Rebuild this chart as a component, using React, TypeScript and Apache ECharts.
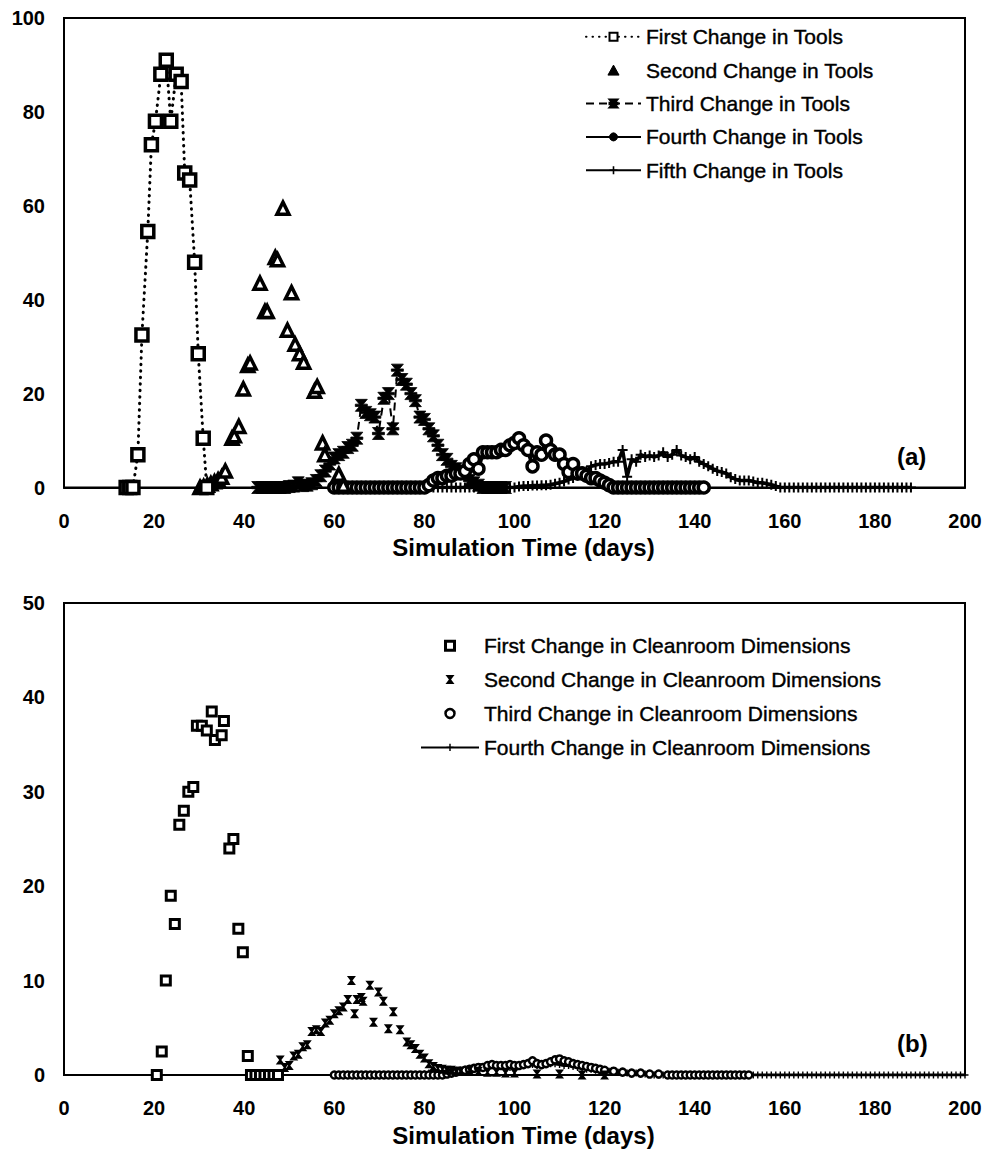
import React, { useEffect, useRef } from "react";
import * as echarts from "echarts";

// ---------- Chart (a): tool changes ----------
const firstTools: [number, number][] = [
  [13.8, 0], [14.6, 0], [15.3, 0], [16.4, 7], [17.3, 32.5], [18.6, 54.5], [19.4, 73], [20.3, 78],
  [21.5, 88], [22.7, 91], [23.7, 78], [24.9, 88], [26, 86.5], [26.8, 67], [27.9, 65.5], [29, 48],
  [29.8, 28.5], [30.9, 10.5], [31.7, 0],
];

const secondTools: [number, number][] = [
  [30.2, 0], [31, 0.2], [31.8, 0.5], [32.6, 0.8], [33.4, 1.2], [34.2, 1.6], [35, 2.2], [35.8, 3.5],
  [37.3, 10.5], [37.8, 11], [38.8, 13], [39.8, 21], [40.8, 26], [41.3, 26.5], [43.5, 43.5],
  [44.6, 37.5], [45.1, 37.5], [46.9, 49], [47.4, 48.5], [48.6, 59.5], [49.6, 33.5], [50.5, 41.5],
  [51.3, 30.5], [52.3, 28.5], [53.2, 26.7], [55.6, 20.5], [56.2, 21.5], [57.4, 9.5], [57.9, 7],
  [61, 2.8], [62, 0.5],
];

const thirdTools: [number, number][] = [
  [43, 0], [44, 0], [45, 0], [46, 0], [47, 0], [48, 0], [49, 0], [50, 0.2], [51, 0.3], [52, 1],
  [53, 0.4], [54, 0.5], [55, 0.8], [56, 1.5], [57, 2.5], [58, 3.5], [59, 5], [60, 6.3], [61, 7],
  [62, 7.5], [63, 8.5], [64, 9], [65, 10.5], [66, 17.5], [67, 16], [68, 15.5], [69, 15],
  [69.8, 11.5], [71, 19], [72, 20], [73, 12.5], [74, 25], [75, 23], [76, 22], [77, 20], [78, 18.5],
  [79, 15], [80, 14.5], [81, 12.5], [82, 11], [83, 9], [84, 7], [85, 6], [86, 4.5], [87, 4],
  [88, 3.5], [89, 3], [90, 1.5], [91, 1], [92, 0.5], [93, 0], [94, 0], [95, 0], [96, 0], [97, 0],
  [98, 0],
];

const fourthTools: [number, number][] = [
  [60, 0], [61, 0], [62, 0], [63, 0], [64, 0], [65, 0], [66, 0], [67, 0], [68, 0], [69, 0],
  [70, 0], [71, 0], [72, 0], [73, 0], [74, 0], [75, 0], [76, 0], [77, 0], [78, 0], [79, 0],
  [80, 0], [81, 0.5], [82, 1.5], [83, 2], [84, 2], [85, 2.5], [86, 2.5], [87, 3], [88, 3],
  [89, 3.5], [90, 5], [91, 6], [92, 4], [93, 7.5], [94, 7.5], [95, 7.5], [96, 7.5], [97, 8],
  [98, 8], [99, 9], [100, 9.5], [101, 10.5], [102, 9], [103, 8], [104, 4.5], [105, 7.5],
  [106, 7], [107, 10], [108, 8], [109, 7], [110, 7], [111, 5], [112, 3.3], [113, 5], [114, 3],
  [115, 3], [116, 2.5], [117, 2], [118, 2], [119, 1.5], [120, 1], [121, 0.5], [122, 0],
  [123, 0], [124, 0], [125, 0], [126, 0], [127, 0], [128, 0], [129, 0], [130, 0], [131, 0],
  [132, 0], [133, 0], [134, 0], [135, 0], [136, 0], [137, 0], [138, 0], [139, 0], [140, 0],
  [141, 0], [142, 0],
];

const fifthTools: [number, number][] = [
  [82, 0], [83, 0], [84, 0], [85, 0], [86, 0], [87, 0], [88, 0], [89, 0], [90, 0], [91, 0],
  [92, 0], [93, 0], [94, 0], [95, 0], [96, 0], [97, 0], [98, 0], [99, 0], [100, 0], [101, 0.2],
  [102, 0.3], [103, 0.3], [104, 0.4], [105, 0.4], [106, 0.5], [107, 0.5], [108, 0.6], [109, 0.8],
  [110, 1], [111, 1.3], [112, 1.7], [113, 2], [114, 2.5], [115, 3], [116, 3.5], [117, 4.5],
  [118, 4.8], [119, 5], [120, 5], [121, 5.2], [122, 5.5], [123, 5.5], [124, 8], [125, 2.3],
  [126, 6], [127, 5.5], [128, 7], [129, 6.5], [130, 6.8], [131, 6.5], [132, 6.8], [133, 7.5],
  [134, 6.5], [135, 7], [136, 8], [137, 6.8], [138, 6.5], [139, 6], [140, 6.5], [141, 5.5],
  [142, 5], [143, 4.5], [144, 4], [145, 3.5], [146, 3.3], [147, 3], [148, 2.2], [149, 1.8],
  [150, 1.5], [151, 1.5], [152, 1.5], [153, 1.3], [154, 1], [155, 1], [156, 0.8], [157, 0.6],
  [158, 0.3], [159, 0], [160, 0], [161, 0], [162, 0], [163, 0], [164, 0], [165, 0], [166, 0],
  [167, 0], [168, 0], [169, 0], [170, 0], [171, 0], [172, 0], [173, 0], [174, 0], [175, 0],
  [176, 0], [177, 0], [178, 0], [179, 0], [180, 0], [181, 0], [182, 0], [183, 0], [184, 0],
  [185, 0], [186, 0], [187, 0], [188, 0],
];

// ---------- Chart (b): cleanroom dimension changes ----------
const firstClean: [number, number][] = [
  [20.6, 0], [21.7, 2.5], [22.6, 10], [23.7, 19], [24.6, 16], [25.6, 26.5], [26.6, 28],
  [27.6, 30], [28.7, 30.5], [29.5, 37], [30.6, 37], [31.7, 36.5], [32.8, 38.5], [33.5, 35.5],
  [35, 36], [35.5, 37.5], [36.7, 24], [37.6, 25], [38.7, 15.5], [39.7, 13], [40.8, 2],
  [41.5, 0], [42.5, 0], [43.5, 0], [44.5, 0], [45.5, 0], [46.5, 0], [47.5, 0],
];

const secondClean: [number, number][] = [
  [46, 0], [47, 0], [48, 1.6], [49, 0.8], [50, 1], [51, 2], [52, 2.2], [53, 3], [54, 3.2],
  [55, 4.6], [56, 4.8], [57, 4.6], [58, 5.5], [59, 5.8], [60, 6.5], [61, 6.8], [62, 7.2],
  [63, 8], [63.8, 10], [64.5, 6.5], [65, 8], [66, 8.2], [66.4, 7.8], [67.9, 9.5], [68.7, 5.6],
  [69.8, 8.8], [70.9, 7.8], [72, 4.9], [73.1, 6.7], [74.6, 4.8], [76.1, 3.5], [77, 3.2],
  [78, 2.8], [79, 2.2], [80, 1.8], [81, 1.2], [82, 0.9], [83, 0.7], [84, 0.6], [85, 0.5],
  [86, 0.5], [87, 0.4], [88, 0.4], [90, 0.5], [92, 0.4], [94, 0.3], [96, 0.3], [98, 0.2],
  [100, 0.2], [105, 0.1], [110, 0.1], [115, 0], [120, 0],
];

const thirdClean: [number, number][] = [
  [60, 0], [61, 0], [62, 0], [63, 0], [64, 0], [65, 0], [66, 0], [67, 0], [68, 0], [69, 0],
  [70, 0], [71, 0], [72, 0], [73, 0], [74, 0], [75, 0], [76, 0], [77, 0], [78, 0], [79, 0],
  [80, 0], [81, 0], [82, 0], [83, 0], [84, 0], [85, 0.1], [86, 0.2], [87, 0.3], [88, 0.4],
  [89, 0.5], [90, 0.6], [91, 0.7], [92, 0.8], [93, 0.8], [94, 1], [95, 1.1], [96, 1], [97, 1],
  [98, 1], [99, 1.1], [100, 1], [101, 1], [102, 1.1], [103, 1.2], [104, 1.5], [105, 1.2],
  [106, 1.1], [107, 1.2], [108, 1.4], [109, 1.6], [110, 1.7], [111, 1.5], [112, 1.4],
  [113, 1.2], [114, 1.1], [115, 1], [116, 0.9], [117, 0.8], [118, 0.7], [119, 0.6], [120, 0.5],
  [122, 0.4], [124, 0.3], [126, 0.2], [128, 0.2], [130, 0.1], [132, 0.1], [134, 0], [135, 0],
  [136, 0], [137, 0], [138, 0], [139, 0], [140, 0], [141, 0], [142, 0], [143, 0], [144, 0],
  [145, 0], [146, 0], [147, 0], [148, 0], [149, 0], [150, 0], [151, 0], [152, 0],
];

const fourthClean: [number, number][] = [
  [80, 0.1], [81, 0.2], [82, 0.3], [83, 0.3], [84, 0.4], [85, 0.4], [86, 0.5], [87, 0.5],
  [88, 0.5], [89, 0.6], [90, 0.6], [91, 0.6], [92, 0.7], [93, 0.8], [94, 0.9], [95, 1], [96, 1],
  [97, 0.9], [98, 0.8], [99, 0.8], [100, 0.9], [101, 1], [102, 1], [103, 1.1], [104, 1.1],
  [105, 1], [106, 1], [107, 1.1], [108, 1.2], [109, 1.2], [110, 1.1], [111, 1], [112, 1],
  [113, 0.9], [114, 0.8], [115, 0.7], [116, 0.6], [117, 0.6], [118, 0.5], [119, 0.5],
  [120, 0.4], [121, 0.4], [122, 0.3], [123, 0.3], [124, 0.3], [125, 0.2], [126, 0.2],
  [127, 0.2], [128, 0.1], [129, 0.1], [130, 0.1], [131, 0], [132, 0], [133, 0], [134, 0],
  [135, 0], [136, 0], [137, 0], [138, 0], [139, 0], [140, 0], [141, 0], [142, 0], [143, 0],
  [144, 0], [145, 0], [146, 0], [147, 0], [148, 0], [149, 0], [150, 0], [151, 0], [152, 0],
  [153, 0], [154, 0], [155, 0], [156, 0], [157, 0], [158, 0], [159, 0], [160, 0], [161, 0],
  [162, 0], [163, 0], [164, 0], [165, 0], [166, 0], [167, 0], [168, 0], [169, 0], [170, 0],
  [171, 0], [172, 0], [173, 0], [174, 0], [175, 0], [176, 0], [177, 0], [178, 0], [179, 0],
  [180, 0], [181, 0], [182, 0], [183, 0], [184, 0], [185, 0], [186, 0], [187, 0], [188, 0],
  [189, 0], [190, 0], [191, 0], [192, 0], [193, 0], [194, 0], [195, 0], [196, 0], [197, 0],
  [198, 0], [199, 0], [200, 0],
];

const namesA = [
  "First Change in Tools",
  "Second Change in Tools",
  "Third Change in Tools",
  "Fourth Change in Tools",
  "Fifth Change in Tools",
];
const namesB = [
  "First Change in Cleanroom Dimensions",
  "Second Change in Cleanroom Dimensions",
  "Third Change in Cleanroom Dimensions",
  "Fourth Change in Cleanroom Dimensions",
];
const xTicks = { min: 0, max: 200, interval: 20 };
const yTicksA = { min: 0, max: 100, interval: 20 };
const yTicksB = { min: 0, max: 50, interval: 10 };
const xTitle = "Simulation Time (days)";

const FONT = "'Liberation Sans', Arial, sans-serif";
const STAR = "path://M0,0H10L6.6,4H10V6H6.6L10,10H0L3.4,6H0V4H3.4Z";
const BOWTIE = "path://M0,0H10L6.2,5L10,10H0L3.8,5Z";
const PLUS = "path://M4,0H6V4H10V6H6V10H4V6H0V4H4Z";
const TRI = "path://M5,0L10,9H0Z";
const SQR = "path://M0,0H10V10H0Z";

function xAxisFor(gridIndex: number) {
  return {
    gridIndex,
    type: "value",
    ...xTicks,
    axisLine: { show: true, onZero: false, lineStyle: { color: "#000", width: 2 } },
    axisTick: { show: false },
    splitLine: { show: false },
    axisLabel: { color: "#000", fontSize: 20, fontWeight: "bold", fontFamily: FONT, margin: 23 },
    name: xTitle,
    nameLocation: "middle",
    nameGap: 48,
    nameTextStyle: {
      color: "#000",
      fontSize: 24,
      fontWeight: "bold",
      fontFamily: FONT,
      padding: [0, 0, 0, 18],
    },
  };
}
function yAxisFor(gridIndex: number, ticks: any) {
  return {
    gridIndex,
    type: "value",
    ...ticks,
    axisLine: { show: true, lineStyle: { color: "#000", width: 2 } },
    axisTick: { show: false },
    splitLine: { show: false },
    axisLabel: { color: "#000", fontSize: 20, fontWeight: "bold", fontFamily: FONT, margin: 19 },
  };
}

const legendText = {
  fontSize: 21,
  color: "#000",
  fontFamily: FONT,
  textBorderColor: "#000",
  textBorderWidth: 0.4,
};

const option: any = {
  animation: false,
  backgroundColor: "#fff",
  grid: [
    { left: 64, top: 18, width: 901, height: 469.5, show: true, borderColor: "#000", borderWidth: 2 },
    { left: 64, top: 603, width: 901, height: 472, show: true, borderColor: "#000", borderWidth: 2 },
  ],
  xAxis: [xAxisFor(0), xAxisFor(1)],
  yAxis: [yAxisFor(0, yTicksA), yAxisFor(1, yTicksB)],
  legend: [
    {
      data: [
        { name: namesA[0] },
        { name: namesA[1], icon: TRI, itemStyle: { color: "#000", borderColor: "#000", borderWidth: 1 } },
        { name: namesA[2] },
        { name: namesA[3], itemStyle: { color: "#000", borderColor: "#000", borderWidth: 1 } },
        { name: namesA[4] },
      ],
      orient: "vertical",
      left: 580,
      top: 21,
      itemWidth: 55,
      itemHeight: 10,
      itemGap: 12,
      selectedMode: false,
      textStyle: legendText,
    },
    {
      data: [
        { name: namesB[0], icon: SQR, itemStyle: { color: "#fff", borderColor: "#000", borderWidth: 3 } },
        { name: namesB[1] },
        { name: namesB[2], itemStyle: { color: "#fff", borderColor: "#000", borderWidth: 2.5 } },
        { name: namesB[3] },
      ],
      orient: "vertical",
      left: 415,
      top: 630,
      itemWidth: 58,
      itemHeight: 9,
      itemGap: 12.5,
      selectedMode: false,
      textStyle: legendText,
    },
  ],
  graphic: [
    { type: "text", left: 897, top: 444, style: { text: "(a)", font: `bold 24px ${FONT}`, fill: "#000" } },
    { type: "text", left: 897, top: 1031, style: { text: "(b)", font: `bold 24px ${FONT}`, fill: "#000" } },
  ],
  series: [
    {
      name: namesA[0],
      type: "line",
      xAxisIndex: 0,
      yAxisIndex: 0,
      data: firstTools,
      symbol: "rect",
      symbolSize: 12,
      showAllSymbol: true,
      itemStyle: { color: "#fff", borderColor: "#000", borderWidth: 3.5 },
      lineStyle: { color: "#000", width: 3, type: [0.5, 6], cap: "round" },
      z: 5,
    },
    {
      name: namesA[1],
      type: "scatter",
      xAxisIndex: 0,
      yAxisIndex: 0,
      data: secondTools,
      symbol: "triangle",
      symbolSize: 12,
      itemStyle: { color: "#fff", borderColor: "#000", borderWidth: 3.5, opacity: 1 },
      z: 4,
    },
    {
      name: namesA[2],
      type: "line",
      xAxisIndex: 0,
      yAxisIndex: 0,
      data: thirdTools,
      symbol: STAR,
      symbolSize: 12,
      showAllSymbol: true,
      itemStyle: { color: "#000", borderColor: "#000", borderWidth: 0.8 },
      lineStyle: { color: "#000", width: 2, type: [8, 5] },
      z: 3,
    },
    {
      name: namesA[3],
      type: "line",
      xAxisIndex: 0,
      yAxisIndex: 0,
      data: fourthTools,
      symbol: "circle",
      symbolSize: 11,
      showAllSymbol: true,
      itemStyle: { color: "#fff", borderColor: "#000", borderWidth: 3.5 },
      lineStyle: { color: "#000", width: 4 },
      z: 3,
    },
    {
      name: namesA[4],
      type: "line",
      xAxisIndex: 0,
      yAxisIndex: 0,
      data: fifthTools,
      symbol: PLUS,
      symbolSize: 10,
      showAllSymbol: true,
      itemStyle: { color: "#000" },
      lineStyle: { color: "#000", width: 3.5 },
      z: 2,
    },
    {
      name: namesB[0],
      type: "scatter",
      xAxisIndex: 1,
      yAxisIndex: 1,
      data: firstClean,
      symbol: "rect",
      symbolSize: 9,
      itemStyle: { color: "#fff", borderColor: "#000", borderWidth: 3, opacity: 1 },
      z: 5,
    },
    {
      name: namesB[1],
      type: "scatter",
      xAxisIndex: 1,
      yAxisIndex: 1,
      data: secondClean,
      symbol: BOWTIE,
      symbolSize: 9,
      itemStyle: { color: "#000", opacity: 1 },
      z: 4,
    },
    {
      name: namesB[2],
      type: "scatter",
      xAxisIndex: 1,
      yAxisIndex: 1,
      data: thirdClean,
      symbol: "circle",
      symbolSize: 7,
      itemStyle: { color: "#fff", borderColor: "#000", borderWidth: 2.5, opacity: 1 },
      z: 3,
    },
    {
      name: namesB[3],
      type: "line",
      xAxisIndex: 1,
      yAxisIndex: 1,
      data: fourthClean,
      symbol: PLUS,
      symbolSize: 7,
      showAllSymbol: true,
      itemStyle: { color: "#000" },
      lineStyle: { color: "#000", width: 3 },
      z: 2,
    },
  ],
};

export default function App() {
  const ref = useRef<HTMLDivElement>(null);
  useEffect(() => {
    const chart = echarts.init(ref.current!, null, { renderer: "svg" });
    chart.setOption(option);
    return () => chart.dispose();
  }, []);
  return (
    <div
      ref={ref}
      style={{ position: "absolute", left: 0, top: 0, width: 990, height: 1165, background: "#fff" }}
    />
  );
}
